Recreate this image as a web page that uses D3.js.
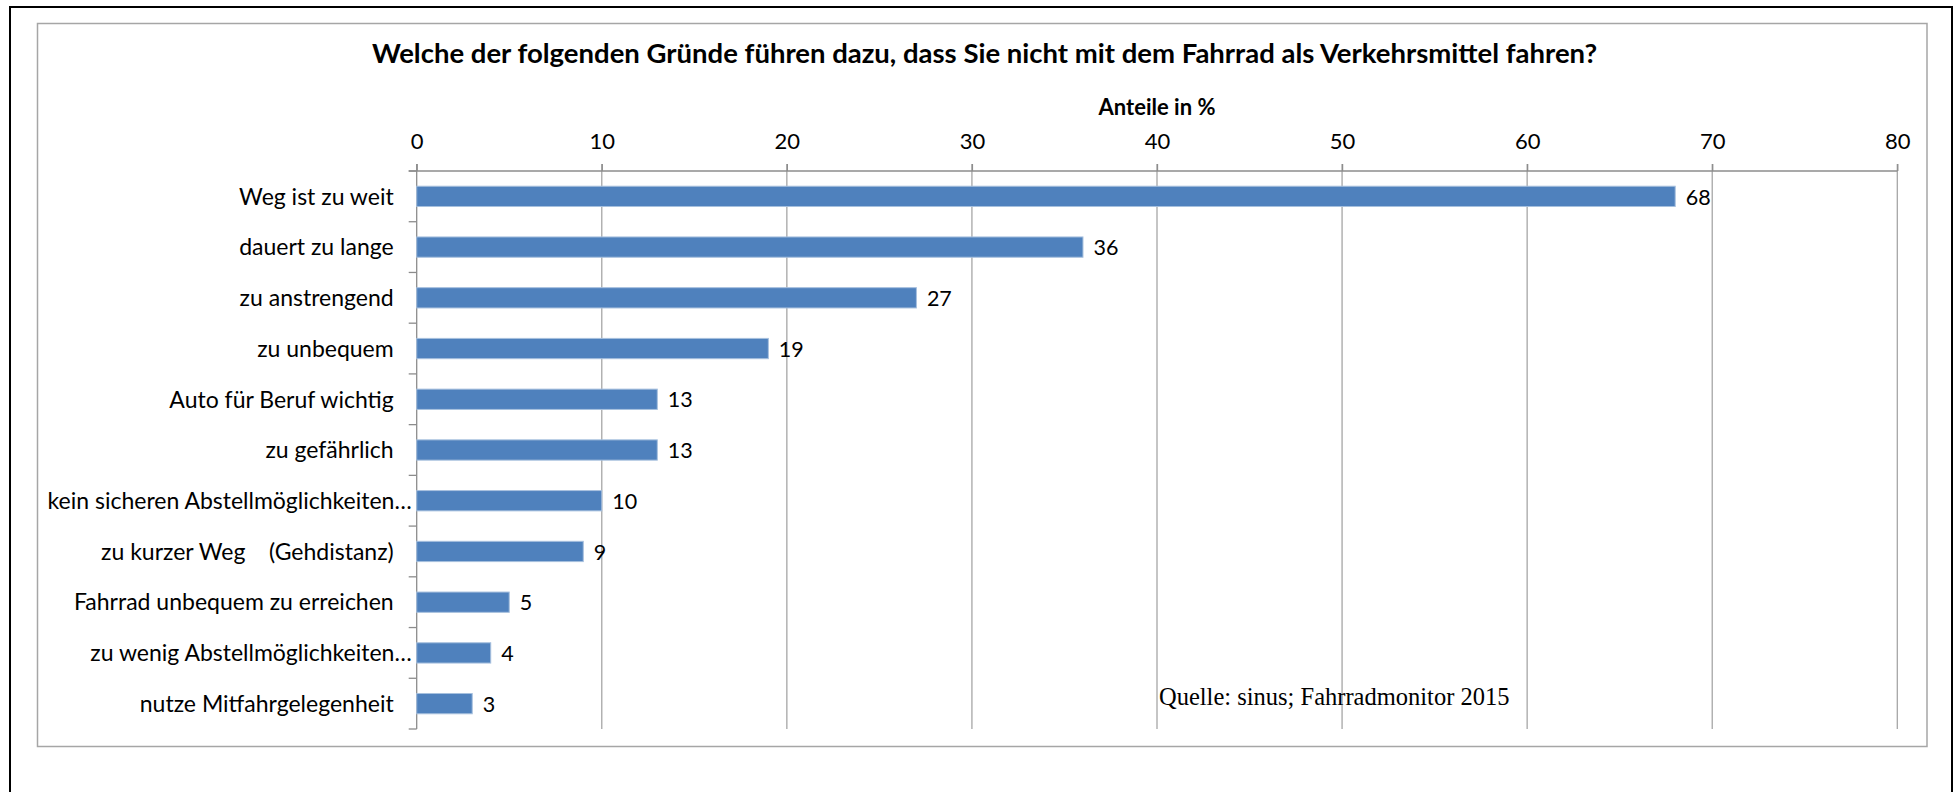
<!DOCTYPE html>
<html><head><meta charset="utf-8">
<script src="https://cdn.jsdelivr.net/npm/d3@7"></script>
<style>
html,body{margin:0;padding:0;background:#fff;}
svg{display:block;}
text{font-family:Lato,"Open Sans",sans-serif;}
</style></head>
<body>
<script>
const title = "Welche der folgenden Gründe führen dazu, dass Sie nicht mit dem Fahrrad als Verkehrsmittel fahren?";
const axisTitle = "Anteile in %";
const source = "Quelle: sinus; Fahrradmonitor 2015";
const categories = [
  "Weg ist zu weit",
  "dauert zu lange",
  "zu anstrengend",
  "zu unbequem",
  "Auto für Beruf wichtig",
  "zu gefährlich",
  "kein sicheren Abstellmöglichkeiten…",
  "zu kurzer Weg    (Gehdistanz)",
  "Fahrrad unbequem zu erreichen",
  "zu wenig Abstellmöglichkeiten…",
  "nutze Mitfahrgelegenheit"
];
const values = [68, 36, 27, 19, 13, 13, 10, 9, 5, 4, 3];
const tickValues = [0, 10, 20, 30, 40, 50, 60, 70, 80];

const W = 1959, H = 792;
const svg = d3.select("body").append("svg").attr("width", W).attr("height", H);

// frames
svg.append("rect").attr("x", 10).attr("y", 7).attr("width", 1942).attr("height", 820)
  .attr("fill", "none").attr("stroke", "#000").attr("stroke-width", 2);
svg.append("rect").attr("x", 37.5).attr("y", 23.5).attr("width", 1889.5).attr("height", 723)
  .attr("fill", "none").attr("stroke", "#a6a6a6").attr("stroke-width", 1.5);

const plotTop = 171, plotBottom = 729;
const x = d3.scaleLinear().domain([0, 80]).range([416.7, 1897.3]);
const y = d3.scaleBand().domain(categories).range([plotTop, plotBottom]).paddingInner(0.6).paddingOuter(0.3);

// gridlines
svg.append("g").selectAll("line").data(tickValues.filter(d => d > 0)).join("line")
  .attr("x1", d => x(d)).attr("x2", d => x(d))
  .attr("y1", plotTop - 7).attr("y2", plotBottom)
  .attr("stroke", "#a6a6a6").attr("stroke-width", 1.3);

// top axis
const xAxis = d3.axisTop(x).tickValues(tickValues).tickSize(7).tickSizeOuter(0).tickPadding(15);
const gx = svg.append("g").attr("transform", `translate(0,${plotTop})`).call(xAxis);
gx.select(".domain").attr("stroke", "#8c8c8c").attr("stroke-width", 1.3)
  .attr("d", `M${x(0) - 8},0H${x(80)}`);
gx.selectAll(".tick line").attr("stroke", "#8c8c8c").attr("stroke-width", 1.3);
gx.selectAll(".tick text").attr("font-size", 22).attr("fill", "#000")
  .attr("font-family", "Lato, sans-serif");

// left axis line and boundary ticks
const step = y.step();
const bounds = d3.range(categories.length + 1).map(i => plotTop + i * step);
svg.append("line").attr("x1", x(0)).attr("x2", x(0)).attr("y1", plotTop - 7).attr("y2", plotBottom)
  .attr("stroke", "#8c8c8c").attr("stroke-width", 1.3);
svg.append("g").selectAll("line").data(bounds).join("line")
  .attr("x1", x(0) - 8).attr("x2", x(0)).attr("y1", d => d).attr("y2", d => d)
  .attr("stroke", "#8c8c8c").attr("stroke-width", 1.3);

// bars
svg.append("g").selectAll("rect").data(values).join("rect")
  .attr("x", x(0)).attr("y", (d, i) => y(categories[i]))
  .attr("width", d => x(d) - x(0)).attr("height", y.bandwidth())
  .attr("fill", "#4f81bd").attr("stroke", "#a7c0de").attr("stroke-width", 1);

// category labels (truncated labels run up to the axis, as in the source)
svg.append("g").selectAll("text").data(categories).join("text")
  .attr("x", d => x(0) - (d.endsWith("…") ? 5 : 23)).attr("y", d => y(d) + y.bandwidth() / 2)
  .attr("dy", "0.36em").attr("text-anchor", "end").attr("font-size", 23)
  .style("white-space", "pre").text(d => d);

// value labels
svg.append("g").selectAll("text").data(values).join("text")
  .attr("x", d => x(d) + 10.5).attr("y", (d, i) => y(categories[i]) + y.bandwidth() / 2)
  .attr("dy", "0.38em").attr("font-size", 21.5).text(d => d);

// titles
svg.append("text").attr("x", 984.5).attr("y", 63).attr("text-anchor", "middle")
  .attr("font-size", 27.5).attr("font-weight", "bold").text(title);
svg.append("text").attr("x", 1157).attr("y", 115).attr("text-anchor", "middle")
  .attr("font-size", 22).attr("font-weight", "bold").text(axisTitle);

// source
svg.append("text").attr("x", 1159).attr("y", 705)
  .style("font-family", "'Liberation Serif', 'DejaVu Serif', serif")
  .attr("font-size", 24.5).text(source);
</script>
</body></html>
